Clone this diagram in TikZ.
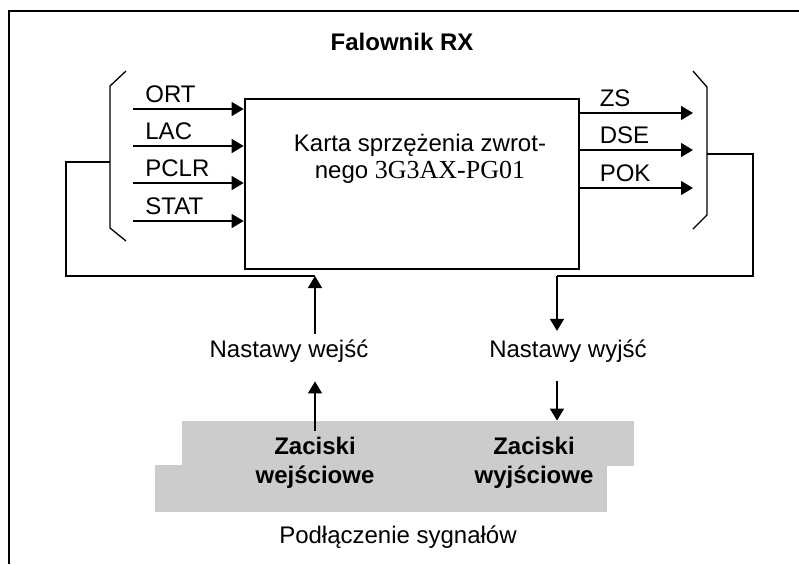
\documentclass[tikz,border=0pt]{standalone}
\usepackage{fontspec}
\setmainfont{Liberation Sans}
\newfontfamily\timesfont{Liberation Serif}
\usetikzlibrary{arrows.meta}
\tikzset{
  txt/.style={font=\fontsize{12}{14}\selectfont, inner sep=0pt},
  boldtxt/.style={font=\fontsize{12}{14.5}\selectfont\bfseries, inner sep=0pt},
  sig/.style={line width=0.65pt, -{Triangle[length=6pt,width=7pt]}},
  wire/.style={line width=0.65pt},
  cardbox/.style={draw, line width=1.35pt, minimum width=167pt, minimum height=85pt, inner sep=0pt},
  terminal/.style={fill=black!20, minimum width=226pt, inner sep=0pt},
}

\begin{document}
\begin{tikzpicture}[x=0.5pt,y=-0.5pt]
\useasboundingbox (0,0) rectangle (799,564);

% frame
\draw[wire] (9,564) -- (9,11) -- (799,11);

\node[boldtxt, anchor=base] (title) at (402,50) {Falownik RX};

\node[cardbox] (card) at (412,184) {};
\node[txt, font=\fontsize{12}{13.5}\selectfont, align=center] (cardtxt) at (420,159) {Karta sprzężenia zwrot-\\nego {\timesfont\fontsize{13}{13.5}\selectfont 3G3AX-PG01}};

% inputs
\foreach \name/\y in {ORT/109, LAC/146, PCLR/183, STAT/221}{
  \coordinate (i\name) at (133,\y);
  \draw[sig] (i\name) -- (i\name -| card.west);
  \path (i\name) ++(12,-7) node[txt, anchor=base west] {\name};
}

% outputs
\foreach \name/\y in {ZS/113, DSE/150, POK/188}{
  \coordinate (o\name) at (693,\y);
  \draw[sig] (o\name -| card.east) -- (o\name);
  \path (o\name -| card.east) ++(19,-7) node[txt, anchor=base west] {\name};
}

% brackets
\draw[wire] (126,71) -- (110,86) -- (110,228) -- (126,241);
\draw[wire] (693,71) -- (707,87) -- (707,215) -- (693,229);

% feedback
\coordinate (jin) at (315,276);
\coordinate (jout) at (557,276);
\draw[wire] (110,162) -- (66,162) -- (66,276) -- (jin);
\draw[wire] (707,154) -- (753,154) -- (753,276) -- (jout);

\node[txt, anchor=base] (nwe) at (289,357) {Nastawy wejść};
\node[txt, anchor=base] (nwy) at (568,357) {Nastawy wyjść};
\draw[sig, shorten <=2.5pt] (jin |- nwe.north) -- (jin);
\draw[sig, shorten >=4pt] (jout) -- (jout |- nwy.north);

% terminals
\node[terminal, minimum height=22.5pt] (upper) at (408,443.5) {};
\node[terminal, minimum height=23.5pt] (lower) at (381,488.5) {};
\node[boldtxt, inner sep=3pt, align=center] (zin) at (315,463) {Zaciski\\wejściowe};
\node[boldtxt, inner sep=3pt, align=center] (zout) at (534,463) {Zaciski\\wyjściowe};
\draw[sig, shorten >=9.5pt] (jin |- zin.north) -- (jin |- nwe.south);
\draw[sig, shorten <=9.5pt] (jout |- nwy.south) -- (jout |- upper.north);

\node[txt, anchor=base] (caption) at (398,543) {Podłączenie sygnałów};
\end{tikzpicture}
\end{document}
